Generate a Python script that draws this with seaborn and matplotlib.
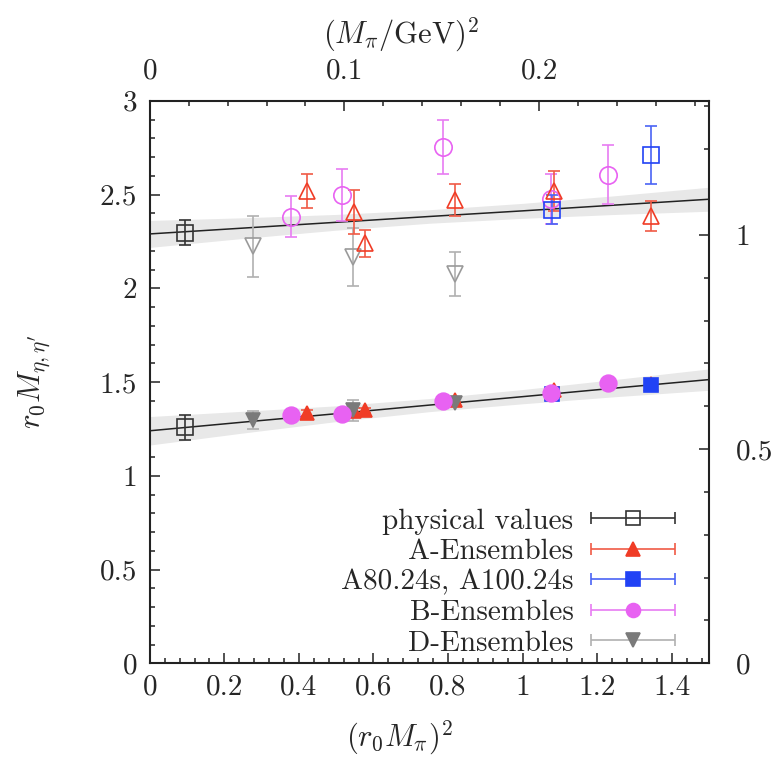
import numpy as np
import matplotlib
matplotlib.use("Agg")
import matplotlib.pyplot as plt
import seaborn as sns
from matplotlib.ticker import MultipleLocator, FuncFormatter
from matplotlib.container import ErrorbarContainer
from matplotlib.legend_handler import HandlerErrorbar

# r0 in GeV^-1, used for the secondary axes
r0 = 2.285

# fit lines with error band
fit_x = [0.0, 0.25, 0.5, 0.75, 1.0, 1.25, 1.5]
etap_fit = [2.290, 2.321, 2.352, 2.383, 2.413, 2.444, 2.475]
etap_band = [0.072, 0.055, 0.042, 0.036, 0.040, 0.050, 0.064]
eta_fit = [1.240, 1.286, 1.331, 1.377, 1.422, 1.468, 1.513]
eta_band = [0.076, 0.058, 0.042, 0.035, 0.038, 0.046, 0.057]

# physical values
phys_x = [0.095]
phys_etap = [2.296]
phys_etap_err = [0.067]
phys_eta = [1.258]
phys_eta_err = [0.068]

# A-Ensembles
a_x = [0.421, 0.549, 0.577, 0.820, 1.083, 1.344]
a_etap = [2.519, 2.405, 2.239, 2.471, 2.519, 2.385]
a_etap_err = [0.092, 0.118, 0.073, 0.083, 0.105, 0.078]
a_eta = [1.334, 1.345, 1.349, 1.406, 1.460, 1.488]
a_eta_err = [0.015, 0.015, 0.015, 0.015, 0.015, 0.015]

# A80.24s, A100.24s
s_x = [1.078, 1.344]
s_etap = [2.420, 2.710]
s_etap_err = [0.078, 0.156]
s_eta = [1.437, 1.483]
s_eta_err = [0.015, 0.015]

# B-Ensembles
b_x = [0.379, 0.516, 0.786, 1.076, 1.228]
b_etap = [2.382, 2.497, 2.754, 2.475, 2.605]
b_etap_err = [0.110, 0.140, 0.146, 0.134, 0.158]
b_eta = [1.322, 1.330, 1.401, 1.441, 1.496]
b_eta_err = [0.012, 0.012, 0.012, 0.012, 0.012]

# D-Ensembles
d_x = [0.276, 0.546, 0.819]
d_etap = [2.223, 2.166, 2.076]
d_etap_err = [0.161, 0.155, 0.116]
d_eta = [1.298, 1.349, 1.390]
d_eta_err = [0.050, 0.055, 0.020]

sns.set_theme(style="ticks")
plt.rcParams["font.family"] = "serif"
plt.rcParams["font.serif"] = ["cmr10", "DejaVu Serif"]
plt.rcParams["mathtext.fontset"] = "cm"
plt.rcParams["axes.unicode_minus"] = False
plt.rcParams["axes.formatter.use_mathtext"] = True

fig = plt.figure(figsize=(7.8, 7.58), dpi=100)
ax = fig.add_axes([0.192, 0.125, 0.717, 0.742])

# fit bands and lines
for fit, band in [(etap_fit, etap_band), (eta_fit, eta_band)]:
    lo = np.array(fit) - np.array(band)
    hi = np.array(fit) + np.array(band)
    ax.fill_between(fit_x, lo, hi, color="#e8e8e8", lw=0, zorder=1)
    sns.lineplot(x=fit_x, y=fit, ax=ax, color="#222222", lw=1.1, zorder=2)

styles = {
    "phys": dict(color="#333333", ecolor="#333333", marker="s"),
    "A": dict(color="#f03c26", ecolor="#f05a46", marker="^"),
    "S": dict(color="#2142f5", ecolor="#4a63f5", marker="s"),
    "B": dict(color="#e862f2", ecolor="#e87cf2", marker="o"),
    "D": dict(color="#7a7a7a", ecolor="#b0b0b0", marker="v"),
}

def draw(x, y, err, key, filled, ms, color=None):
    st = styles[key]
    c = color or st["color"]
    ax.errorbar(x, y, yerr=err, fmt=st["marker"], color=c,
                ecolor=st["ecolor"], mfc=c if filled else "none",
                mec=c, ms=ms, mew=1.2, elinewidth=1.2,
                capsize=4.5, capthick=1.2, zorder=3)

# eta' (open symbols)
draw(d_x, d_etap, d_etap_err, "D", False, 11, color="#9a9a9a")
draw(b_x, b_etap, b_etap_err, "B", False, 12.5)
draw(a_x, a_etap, a_etap_err, "A", False, 11)
draw(s_x, s_etap, s_etap_err, "S", False, 11)
draw(phys_x, phys_etap, phys_etap_err, "phys", False, 11)

# eta (filled symbols)
draw(a_x, a_eta, a_eta_err, "A", True, 10)
draw(s_x, s_eta, s_eta_err, "S", True, 10.5)
draw(d_x, d_eta, d_eta_err, "D", True, 10)
draw(b_x, b_eta, b_eta_err, "B", True, 12)
draw(phys_x, phys_eta, phys_eta_err, "phys", False, 11)

# legend proxies with horizontal error bars (gnuplot style)
labels = ["physical values", "A-Ensembles", "A80.24s, A100.24s",
          "B-Ensembles", "D-Ensembles"]
keys = ["phys", "A", "S", "B", "D"]
handles = []
for lab, key in zip(labels, keys):
    st = styles[key]
    h = ax.errorbar([np.nan], [np.nan], xerr=[1.0], fmt=st["marker"],
                    color=st["color"], ecolor=st["ecolor"],
                    mfc="none" if key == "phys" else st["color"],
                    mec=st["color"], ms=10, mew=1.2, elinewidth=1.2,
                    capsize=4.5, capthick=1.2, label=lab)
    handles.append(h)

hl = 2.9
ax.legend(handles=handles, labels=labels, loc="lower right",
          bbox_to_anchor=(0.94, 0.012), frameon=False, markerfirst=False,
          numpoints=1, handlelength=hl, handletextpad=0.6, labelspacing=0.14,
          borderpad=0, borderaxespad=0, fontsize=21,
          handler_map={ErrorbarContainer: HandlerErrorbar(xerr_size=hl / 2)})

ax.set_xlim(0, 1.5)
ax.set_ylim(0, 3)
fmt = FuncFormatter(lambda v, p: "%g" % v)
ax.xaxis.set_major_locator(MultipleLocator(0.2))
ax.xaxis.set_minor_locator(MultipleLocator(0.04))
ax.yaxis.set_major_locator(MultipleLocator(0.5))
ax.yaxis.set_minor_locator(MultipleLocator(0.1))
ax.xaxis.set_major_formatter(fmt)
ax.yaxis.set_major_formatter(fmt)
ax.tick_params(which="both", direction="in", top=False, right=False,
               labelsize=21, width=1.1, color="#222222")
ax.tick_params(which="major", length=7)
ax.tick_params(which="minor", length=3.5)
ax.tick_params(axis="x", pad=8)
ax.tick_params(axis="y", pad=9)
for sp in ax.spines.values():
    sp.set_linewidth(1.5)
    sp.set_color("#222222")

ax.set_xlabel(r"$(r_0 M_\pi)^2$", fontsize=22, labelpad=13, x=0.447)
ax.set_ylabel(r"$r_0 M_{\eta,\eta^\prime}$", fontsize=22, labelpad=34)

top = ax.secondary_xaxis("top", functions=(lambda v: v / r0**2, lambda v: v * r0**2))
top.set_xticks([0, 0.1, 0.2])
top.xaxis.set_minor_locator(MultipleLocator(0.02))
top.xaxis.set_major_formatter(fmt)
top.tick_params(which="both", direction="in", labelsize=21, pad=12,
                width=1.1, color="#222222")
top.tick_params(which="major", length=7)
top.tick_params(which="minor", length=3.5)
top.set_xlabel(r"$(M_\pi/\mathrm{GeV})^2$", fontsize=22, labelpad=10, x=0.45)

right = ax.secondary_yaxis("right", functions=(lambda v: v / r0, lambda v: v * r0))
right.set_yticks([0, 0.5, 1])
right.yaxis.set_minor_locator(MultipleLocator(0.1))
right.yaxis.set_major_formatter(fmt)
right.tick_params(which="both", direction="in", labelsize=21, pad=19,
                  width=1.1, color="#222222")
right.tick_params(which="major", length=7)
right.tick_params(which="minor", length=3.5)

fig.savefig("out.png", dpi=100)
